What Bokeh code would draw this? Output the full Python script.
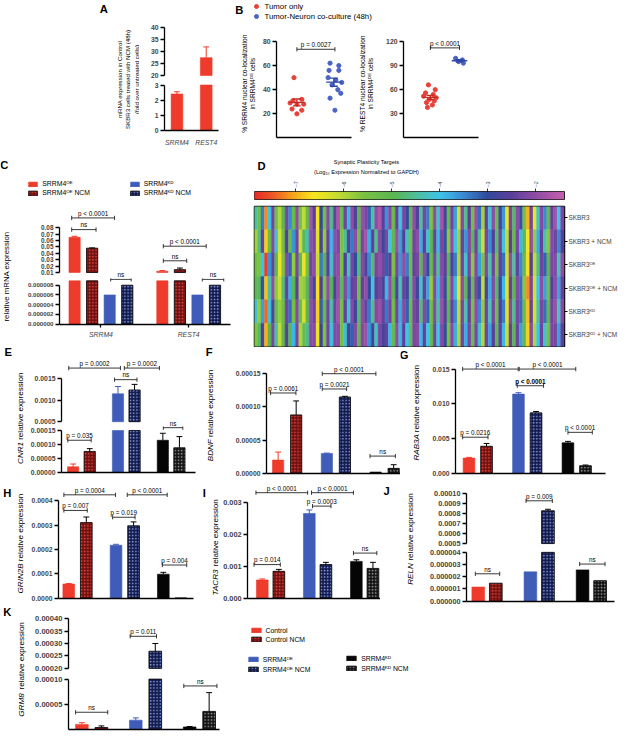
import math
import numpy as np
from bokeh.plotting import figure
from bokeh.layouts import row, column
from bokeh.models import (Range1d, LinearAxis, FixedTicker, PrintfTickFormatter, Label,
                          ColumnDataSource, Legend, LegendItem, LinearColorMapper)
from bokeh.transform import transform
from bokeh.embed import file_html
from bokeh.resources import INLINE

# ====================== DATA ======================
A_GENES = ["SRRM4", "REST4"]
A_FOLD = [2.4, 27.5]
A_ERR = [0.15, 4.5]

B_SERIES = ["Tumor only", "Tumor-Neuron co-culture (48h)"]
B1_TUMOR = [50, 32, 31, 29, 28, 28, 24, 23, 20]
B1_COCULT = [62, 60, 56, 56, 50, 48, 46, 44, 40, 37, 33, 23]
B2_TUMOR = [66, 60, 56, 54, 52, 50, 48, 46, 44, 41, 38]
B2_COCULT = [99, 97, 95, 93]
B1_P = "p = 0.0027"
B2_P = "p < 0.0001"

C_GENES = ["SRRM4", "REST4"]
C_SERIES = ["SRRM4ᴼᴱ", "SRRM4ᴼᴱ NCM", "SRRM4ᴷᴰ", "SRRM4ᴷᴰ NCM"]
C_SRRM4_MEAN = [0.065, 0.048, 0.000006, 0.000008]
C_SRRM4_ERR = [0.0015, 0.0004, 0.0, 0.0]
C_REST4_MEAN = [0.012, 0.0145, 0.000006, 0.000008]
C_REST4_ERR = [0.0012, 0.0025, 0.0, 0.0]

D_ROWS = ["SKBR3", "SKBR3 + NCM", "SKBR3ᴼᴱ", "SKBR3ᴼᴱ + NCM", "SKBR3ᴷᴰ", "SKBR3ᴷᴰ + NCM"]
D_TICKS = [-7, -6, -5, -4, -3, -2]
D_LOW, D_HIGH = -7.87, -1.41
HM_SKBR3 = [
    -4.5, -5.4, -3.4, -7.2, -4.0, -2.3, -5.4, -6.0, -5.0, -2.2,
    -3.5, -5.3, -2.0, -5.5, -6.1, -5.2, -1.8, -2.5, -6.6, -3.0,
    -5.4, -2.1, -4.6, -2.4, -1.7, -5.2, -2.3, -3.9, -2.0, -2.6,
    -5.0, -1.9, -2.2, -3.2, -4.4, -2.0, -1.7, -2.5, -3.6, -2.1,
    -5.3, -2.4, -4.0, -2.2, -3.0, -5.0, -2.0, -2.6, -4.5, -2.2,
    -3.4, -5.6, -2.0, -4.2, -1.8, -2.8, -5.2, -2.3, -3.7, -6.3,
    -2.1, -4.6, -2.5, -5.4, -1.9, -3.3, -5.9, -2.4, -4.1, -2.0,
    -5.2, -2.7, -3.6, -6.5, -2.2, -4.8, -2.0, -3.1, -5.5, -7.0,
    -2.3, -6.5, -4.3, -2.1, -3.5, -5.2, -2.4, -1.8, -4.0, -2.2]
HM_SKBR3_NCM = [
    -5.9, -4.6, -2.4, -6.8, -5.3, -2.1, -4.2, -6.3, -5.4, -2.6,
    -5.2, -3.6, -2.3, -6.2, -5.0, -4.4, -2.0, -2.2, -6.4, -2.8,
    -5.8, -2.4, -3.9, -2.0, -2.2, -5.6, -4.5, -2.6, -3.4, -2.0,
    -5.3, -2.2, -1.8, -3.8, -2.5, -4.6, -2.1, -2.9, -2.2, -4.1,
    -5.1, -1.9, -3.7, -2.6, -4.3, -5.4, -2.3, -2.0, -3.8, -2.5,
    -4.2, -5.0, -2.4, -3.9, -2.2, -3.1, -5.7, -2.0, -4.0, -5.9,
    -2.4, -3.6, -2.1, -5.0, -2.3, -4.5, -6.2, -2.2, -3.5, -2.6,
    -4.8, -2.3, -4.1, -6.1, -2.5, -5.2, -2.2, -3.9, -4.9, -6.6,
    -2.0, -5.8, -3.8, -2.4, -4.4, -5.7, -2.1, -2.3, -3.5, -2.6]
HM_OE = [
    -5.3, -5.6, -4.0, -7.7, -3.6, -2.4, -5.0, -6.5, -5.6, -2.1,
    -3.2, -5.8, -2.2, -5.1, -6.5, -5.5, -2.3, -2.0, -6.2, -3.4,
    -5.0, -2.5, -4.2, -2.1, -2.0, -5.5, -2.6, -4.3, -2.2, -3.0,
    -4.7, -2.1, -2.6, -3.5, -4.8, -2.2, -2.0, -2.3, -3.2, -2.5,
    -5.6, -2.2, -3.6, -2.0, -3.4, -5.3, -2.4, -2.2, -4.9, -2.0,
    -3.0, -5.2, -2.2, -4.5, -2.1, -2.5, -4.9, -2.6, -3.4, -6.0,
    -2.3, -4.2, -2.2, -5.7, -2.1, -3.7, -5.6, -2.1, -4.4, -2.3,
    -5.5, -2.4, -3.3, -6.2, -2.0, -4.5, -2.4, -3.5, -5.2, -6.7,
    -2.5, -6.1, -4.6, -2.3, -3.2, -5.0, -2.2, -2.1, -4.3, -2.0]
HM_OE_NCM = [
    -5.0, -4.9, -3.1, -6.9, -4.4, -2.0, -5.7, -6.2, -4.7, -2.4,
    -3.8, -5.0, -2.5, -5.9, -5.8, -4.9, -2.1, -2.7, -6.7, -2.7,
    -5.6, -2.0, -4.9, -2.6, -1.9, -4.9, -2.1, -3.6, -2.4, -2.3,
    -5.4, -2.4, -2.0, -3.0, -4.1, -2.5, -2.3, -2.7, -3.9, -2.0,
    -5.0, -2.6, -4.3, -2.4, -2.8, -4.7, -2.1, -2.8, -4.2, -2.4,
    -3.7, -5.8, -2.1, -3.9, -2.0, -3.0, -5.4, -2.1, -3.9, -6.5,
    -2.0, -4.9, -2.7, -5.2, -2.2, -3.1, -6.1, -2.6, -3.8, -2.1,
    -4.9, -2.9, -3.9, -6.4, -2.4, -5.0, -2.1, -3.3, -5.7, -7.2,
    -2.2, -6.3, -4.0, -2.0, -3.7, -5.4, -2.6, -2.0, -3.7, -2.4]
HM_KD = [
    -4.2, -5.8, -3.7, -7.4, -4.1, -2.6, -5.2, -5.8, -5.3, -2.3,
    -3.3, -5.5, -2.1, -5.3, -6.3, -5.0, -2.0, -2.3, -6.8, -3.2,
    -5.2, -2.3, -4.4, -2.3, -1.8, -5.4, -2.4, -4.1, -2.1, -2.8,
    -4.8, -2.0, -2.4, -3.4, -4.6, -2.1, -1.9, -2.4, -3.4, -2.3,
    -5.4, -2.3, -3.8, -2.1, -3.2, -5.2, -2.2, -2.4, -4.7, -2.1,
    -3.2, -5.4, -2.1, -4.4, -1.9, -2.6, -5.0, -2.4, -3.5, -6.1,
    -2.2, -4.4, -2.4, -5.5, -2.0, -3.5, -5.8, -2.3, -4.3, -2.2,
    -5.3, -2.6, -3.4, -6.4, -2.1, -4.6, -2.2, -3.3, -5.3, -6.9,
    -2.4, -6.3, -4.4, -2.2, -3.3, -5.1, -2.3, -1.9, -4.2, -2.1]
HM_KD_NCM = [
    -5.6, -4.8, -2.6, -7.0, -5.0, -2.2, -4.5, -6.1, -5.1, -2.5,
    -4.9, -3.9, -2.2, -6.0, -5.2, -4.6, -2.1, -2.1, -6.5, -2.9,
    -5.6, -2.3, -4.1, -2.1, -2.1, -5.4, -4.2, -2.8, -3.2, -2.1,
    -5.1, -2.1, -1.9, -3.6, -2.8, -4.3, -2.2, -2.8, -2.4, -3.9,
    -5.2, -2.0, -3.9, -2.5, -4.0, -5.2, -2.2, -2.1, -3.9, -2.4,
    -4.0, -5.2, -2.3, -4.0, -2.1, -3.0, -5.5, -2.1, -3.8, -6.0,
    -2.3, -3.8, -2.2, -5.2, -2.2, -4.2, -6.0, -2.3, -3.7, -2.5,
    -5.0, -2.4, -3.9, -6.2, -2.4, -5.0, -2.3, -3.7, -5.1, -6.8,
    -2.1, -6.0, -4.0, -2.3, -4.2, -5.5, -2.2, -2.2, -3.7, -2.5]

GROUPS = ["Control", "Control NCM", "SRRM4ᴼᴱ", "SRRM4ᴼᴱ NCM", "SRRM4ᴷᴰ", "SRRM4ᴷᴰ NCM"]
E_MEAN = [0.00002, 0.000075, 0.00115, 0.00124, 0.000115, 0.000088]
E_ERR = [0.00001, 0.00001, 0.00017, 0.00013, 0.000025, 0.00004]
F_MEAN = [0.00002, 0.000088, 0.00003, 0.000115, 0.000002, 0.0000075]
F_ERR = [0.000012, 0.000021, 0.0000005, 0.000001, 0.0, 0.0000055]
G_MEAN = [0.0022, 0.0039, 0.0114, 0.0087, 0.0044, 0.0011]
G_ERR = [0.0001, 0.0004, 0.0002, 0.0002, 0.0002, 0.0001]
H_MEAN = [0.000058, 0.00031, 0.000217, 0.000297, 0.0000985, 0.0000005]
H_ERR = [0.000002, 0.000023, 0.000004, 0.000016, 0.0000075, 0.0]
I_MEAN = [0.00057, 0.00084, 0.00265, 0.00105, 0.00115, 0.00093]
I_ERR = [0.00003, 0.00006, 0.00011, 0.00007, 0.00005, 0.00019]
J_MEAN = [0.00000115, 0.00000147, 0.0000024, 0.00083, 0.00000256, 0.00000168]
J_ERR = [0.0, 0.0, 0.0, 0.000015, 0.0, 0.0]
K_MEAN = [0.0000107, 0.0000045, 0.000019, 0.000269, 0.0000057, 0.0000363]
K_ERR = [0.0000033, 0.0000032, 0.0000045, 0.000031, 0.0000008, 0.000037]

# significance brackets: (x from, x to [layout px], height [data], text)
B1_BR = [(304, 343, 73.5, B1_P)]
B2_BR = [(440, 470, 112, B2_P)]
C_BR = [(73, 117, 0.0952, "p < 0.0001"), (73, 98, 0.077, "ns"), (113, 134, 0.0000092, "ns"),
        (167, 211, 0.0511, "p < 0.0001"), (167, 191, 0.0283, "ns"), (207, 229, 0.0000092, "ns")]
E_BR = [(70, 123, 0.00175, "p = 0.0002"), (127, 163, 0.00175, "p = 0.0002"), (117, 140, 0.00148, "ns"),
        (69, 93, 0.000115, "p = 0.035"), (167, 187, 0.00016, "ns")]
F_BR = [(277, 303, 0.000121, "p = 0.0061"), (330, 355, 0.000127, "p = 0.0021"),
        (330, 385, 0.00015, "p < 0.0001"), (379, 405, 0.000026, "ns")]
G_BR = [(474, 531, 0.015, "p < 0.0001"), (532, 590, 0.015, "p < 0.0001"), (530, 557, 0.0126, "p < 0.0001", "bold"),
        (474, 500, 0.0052, "p = 0.0216"), (582, 607, 0.0059, "p < 0.0001")]
H_BR = [(65, 118, 0.000424, "p = 0.0004"), (130, 171, 0.000424, "p < 0.0001"), (65, 89, 0.00036, "p = 0.007"),
        (115, 138, 0.000332, "p = 0.019"), (166, 191, 0.000136, "p = 0.004")]
I_BR = [(262, 315, 0.0033, "p < 0.0001"), (319, 362, 0.0033, "p < 0.0001"), (320, 339, 0.00288, "p = 0.0003"),
        (260, 287, 0.00105, "p = 0.014"), (362, 386, 0.00141, "ns")]
J_BR = [(539, 566, 0.00093, "p = 0.009"), (487, 512, 0.00000224, "ns"), (594, 620, 0.00000304, "ns")]
K_BR = [(133, 160, 0.000329, "p = 0.011"), (77, 110, 0.0000346, "ns"), (188, 222, 0.0000865, "ns")]

# ====================== STYLE / LAYOUT ======================
K = 0.975
FONT = "Liberation Sans"
RED, BLUE, BLK = "#ee3b2b", "#3f5cb9", "#050505"
FAM = [(RED, "#701212", "#f04a3c"), (BLUE, "#141b4c", "#8ea8ee"), (BLK, "#141414", "#9c9c9c")]
B_COL = ["#e8403a", "#4b63c4"]
B_MEANCOL = ["#c42a22", "#2e47a3"]
B1_DX = [[-3, 5, -4, -7, 0, 7, -5, 5, 0], [-4, 5, -5, 5, -6, 2, 8, -2, 4, 7, -4, 1]]
B2_DX = [[-2, 5, -5, 3, -7, 6, -1, 4, -4, 2, -3], [-4, 3, -1, 4]]

STOPS = [(0.00, "#e52d27"), (0.06, "#ee5a24"), (0.12, "#f6a21d"), (0.19, "#f8e71c"), (0.27, "#c4dc32"),
         (0.35, "#7cc242"), (0.45, "#5ab552"), (0.52, "#4fbf9a"), (0.60, "#3ec3ea"), (0.68, "#3a88d2"),
         (0.75, "#2f4b9d"), (0.83, "#5a3f9a"), (0.91, "#8e4da6"), (1.00, "#c55fae")]


def _rgb(h):
    return [int(h[i:i + 2], 16) for i in (1, 3, 5)]


_pos = [s[0] for s in STOPS]
_cols = np.array([_rgb(s[1]) for s in STOPS], dtype=float)
PALETTE = ["#%02x%02x%02x" % tuple(int(round(np.interp(t, _pos, _cols[:, k]))) for k in range(3))
           for t in np.linspace(0, 1, 256)]

HW = dict(zip("abcdefghijklmnopqrstuvwxyz",
              [556, 556, 500, 556, 556, 278, 556, 556, 222, 222, 500, 222, 833, 556, 556, 556, 556, 333, 500, 278,
               556, 500, 722, 500, 500, 500]))
HW.update(zip("ABCDEFGHIJKLMNOPQRSTUVWXYZ",
              [667, 667, 722, 722, 667, 611, 778, 722, 278, 500, 667, 556, 833, 722, 778, 667, 778, 722, 667, 611,
               722, 667, 944, 667, 667, 611]))
HW[" "] = 278


def tw(s, size):
    return sum(HW.get(c, 556) for c in s) / 1000.0 * size


def fs(v):
    return "%.2fpx" % (v * K)


class Seg:
    def __init__(self, x0, x1, y0, y1, fl=None, fr=None, ft=None, fb=None, xcal=(0, 0, 1, 1), ycal=(0, 0, 1, 1)):
        self.X0, self.X1, self.Y0, self.Y1 = (int(round(v * K)) for v in (x0, x1, y0, y1))
        self.FL = int(round((x0 if fl is None else fl) * K))
        self.FR = int(round((x1 if fr is None else fr) * K))
        self.FT = int(round((y0 if ft is None else ft) * K))
        self.FB = int(round((y1 if fb is None else fb) * K))
        u1, q1, u2, q2 = xcal
        self.xu, self.xq, self.xs = u1, q1, (q2 - q1) / (u2 - u1)
        v1, p1, v2, p2 = ycal
        self.yv, self.yp, self.ys = v1, p1, (p1 - p2) / (v2 - v1)
        self.xr = Range1d(self.q2u(self.FL / K), self.q2u(self.FR / K))
        self.yr = Range1d(self.p2v(self.FB / K), self.p2v(self.FT / K))
        self.top_r, self.bot_r = self.Y0 / K, self.Y1 / K
        self.clip = (self.yr.start, self.yr.end)
        p = figure(width=self.X1 - self.X0, height=self.Y1 - self.Y0, x_range=self.xr, y_range=self.yr,
                   toolbar_location=None, output_backend="svg", x_axis_type=None, y_axis_type=None,
                   min_border_left=self.FL - self.X0, min_border_right=self.X1 - self.FR,
                   min_border_top=self.FT - self.Y0, min_border_bottom=self.Y1 - self.FB)
        p.outline_line_color = None
        self.fig = p

    def q2u(self, q):
        return self.xu + (q - self.xq) / self.xs

    def p2v(self, p):
        return self.yv + (self.yp - p) / self.ys

    def v2p(self, v):
        return self.yp - (v - self.yv) * self.ys


def txt(sg, x, y, t, size, style="normal", align="center", base="middle", angle=0.0, color="black"):
    sg.fig.add_layout(Label(x=x, y=y, text=t, text_font=FONT, text_font_size=fs(size), text_font_style=style,
                            text_align=align, text_baseline=base, angle=angle, text_color=color))


def y_axis(sg, ticks, fmt, lo, hi, size=7.0, overrides=None, bar_top=None):
    ax = LinearAxis(ticker=FixedTicker(ticks=list(ticks)), formatter=PrintfTickFormatter(format=fmt), bounds=(lo, hi),
                    axis_line_width=1.3, major_tick_line_width=1.3, major_tick_out=4, major_tick_in=0,
                    minor_tick_out=0, minor_tick_in=0, major_label_standoff=2,
                    major_label_text_font=FONT, major_label_text_font_size=fs(size),
                    major_label_text_font_style="bold")
    if overrides:
        ax.major_label_overrides = overrides
    sg.fig.add_layout(ax, "left")
    sg.clip = (lo, hi if bar_top is None else bar_top)


def x_axis(sg, end_px, ticks=(), labels=None, size=7.0, tick_out=0, standoff=3):
    ax = LinearAxis(ticker=FixedTicker(ticks=list(ticks)), bounds=(sg.xr.start, sg.q2u(end_px)),
                    axis_line_width=1.3, major_tick_line_width=1.3, major_tick_out=tick_out, major_tick_in=0,
                    minor_tick_out=0, minor_tick_in=0, major_label_standoff=standoff,
                    major_label_text_font=FONT, major_label_text_font_size=fs(size),
                    major_label_text_font_style="italic")
    if labels:
        ax.major_label_overrides = {float(t): l for t, l in zip(ticks, labels)}
    sg.fig.add_layout(ax, "below")


def bar_style(fam, hat):
    solid, dark, hc = FAM[fam]
    if hat:
        return dict(fill_color=dark, hatch_pattern="dot", hatch_color=hc, hatch_scale=3.2, hatch_weight=1.3,
                    line_color="black", line_width=0.8)
    return dict(fill_color=solid, line_color=solid, line_width=0.6)


def draw_bars(sg, xs, means, errs, kinds, w, capw):
    lo, hi = sg.clip
    for x, m, e, (fam, hat) in zip(xs, means, errs, kinds):
        if m > lo:
            sg.fig.vbar(x=[x], top=[min(m, hi)], bottom=lo, width=w, **bar_style(fam, hat))
        if e > 0 and lo < m < hi:
            ec = "black" if hat else FAM[fam][0]
            sg.fig.segment(x0=[x, x - capw], y0=[m, m + e], x1=[x, x + capw], y1=[m + e, m + e],
                           line_color=ec, line_width=1.0)


def brackets(segs, specs, size=6.5):
    for spec in specs:
        x0, x1, val, text = spec[:4]
        style = spec[4] if len(spec) > 4 else "normal"
        sg = next(s for s in segs if s.yr.start <= val <= s.yr.end)
        py = sg.v2p(val)
        xa, xb = sg.q2u(x0), sg.q2u(x1)
        c1, c2 = sg.p2v(py - 2.2), sg.p2v(py + 2.2)
        sg.fig.segment(x0=[xa, xa, xb], y0=[val, c1, c1], x1=[xb, xa, xb], y1=[val, c2, c2],
                       line_color="#222222", line_width=0.9)
        ty = py - 1.2
        mid = ty - size / 2
        tg = next((s for s in segs if s.top_r <= mid <= s.bot_r), sg)
        txt(tg, tg.q2u((x0 + x1) / 2), tg.p2v(ty), text, size, style=style, base="bottom")


def six_bars(segs, means, errs, c0, c2, half, wpx):
    ppg = (c2 - c0) / 2.0
    xs = [g + s * half / ppg for g in range(3) for s in (-1, 1)]
    kinds = [(i // 2, i % 2) for i in range(6)]
    for sg in segs:
        draw_bars(sg, xs, means, errs, kinds, wpx / ppg, 3.0 / ppg)


def gene_label(sg, x, yc, gene, size=8.3):
    rest = "relative expression"
    wg, ws, wr = tw(gene, size), tw(" ", size) + 1.6, tw(rest, size)
    ybot = yc + (wg + ws + wr) / 2
    txt(sg, x, ybot, gene, size, style="italic", align="left", angle=math.pi / 2)
    txt(sg, x, ybot - wg - ws, rest, size, align="left", angle=math.pi / 2)


def letter(sg, x, y, t):
    txt(sg, x, y, t, 11.5, style="bold")


def make_legend(sg, entries, left, top, size=7.0, gw=12, gh=6, pitch=10.5, kind="bar"):
    items = []
    far = sg.xr.start - 1000.0
    for label, st in entries:
        if kind == "bar":
            r = sg.fig.vbar(x=[far], top=[sg.yr.start], bottom=sg.yr.start, width=1, **st)
        else:
            r = sg.fig.scatter(x=[far], y=[sg.yr.start], size=4, **st)
        items.append(LegendItem(label=label, renderers=[r]))
    th = size * K * 1.15
    ih = max(gh * K, th)
    sp = int(round(max(0.0, pitch * K - ih)))
    n = len(entries)
    hgt = n * ih + (n - 1) * sp
    lx = left * K - sg.X0
    ly = (sg.Y1 - top * K) - hgt
    lg = Legend(items=items, location=(lx, ly), orientation="vertical",
                glyph_width=int(round(gw * K)), glyph_height=int(round(gh * K)), label_height=int(round(gh * K)),
                label_width=10, label_standoff=4, spacing=sp, padding=0, margin=0,
                border_line_color=None, background_fill_alpha=0, label_text_color="black",
                label_text_font=FONT, label_text_font_size=fs(size))
    sg.fig.add_layout(lg)


# ====================== ROW 1: A and B ======================
stripA = Seg(0, 143, 0, 152)
letter(stripA, 106, 9, "A")
for xx, line in zip((122, 130.5, 139), ("mRNA expression in Control", "SKBR3 cells treated with NCM (48h)",
                                          "(fold over untreated cells)")):
    txt(stripA, xx, 81, line, 6.3, angle=math.pi / 2)
topA = Seg(143, 232, 0, 81, fl=168, xcal=(0, 181, 1, 211), ycal=(20, 77, 40, 28))
botA = Seg(143, 232, 81, 152, fl=168, fb=136, xcal=(0, 181, 1, 211), ycal=(0, 136, 3, 87))
y_axis(topA, [20, 25, 30, 35, 40], "%d", 20, 40)
y_axis(botA, [0, 1, 2, 3], "%d", 0, 3)
topA.clip = (20, topA.yr.end)
for sg in (topA, botA):
    draw_bars(sg, [0, 1], A_FOLD, A_ERR, [(0, 0), (0, 0)], 12 / 30.0, 3 / 30.0)
x_axis(botA, 224, ticks=[0, 1], labels=A_GENES, size=7.0, tick_out=0, standoff=8)

legB = Seg(232, 637, 0, 30)
letter(legB, 245, 10, "B")
make_legend(legB, [(B_SERIES[0], dict(color=B_COL[0])), (B_SERIES[1], dict(color=B_COL[1]))],
            257, 2, size=8.0, gw=10, gh=10, pitch=10.5, kind="dot")
stripB1 = Seg(232, 264, 30, 152)
txt(stripB1, 250, 91, "% SRRM4 nuclear co-localization", 6.8, angle=math.pi / 2)
txt(stripB1, 258.5, 91, "in SRRM4ᴼᴱ cells", 6.8, angle=math.pi / 2)
sB1 = Seg(264, 365, 30, 152, fl=283, fb=141, xcal=(0, 304, 1, 342), ycal=(0, 141, 80, 42))
stripB2 = Seg(365, 393, 30, 152)
txt(stripB2, 371, 91, "% REST4 nuclear co-localization", 6.8, angle=math.pi / 2)
txt(stripB2, 379.5, 91, "in SRRM4ᴼᴱ cells", 6.8, angle=math.pi / 2)
sB2 = Seg(393, 637, 30, 152, fl=412, fb=141, xcal=(0, 440, 1, 470), ycal=(0, 141, 120, 42))


def scatter_panel(sg, groups, dxs):
    ppg = sg.xs
    for g, (vals, dx) in enumerate(zip(groups, dxs)):
        xs = [g + d / ppg for d in dx]
        sg.fig.scatter(xs, vals, size=4.3 * K, color=B_COL[g])
        m = float(np.mean(vals))
        se = float(np.std(vals, ddof=1) / math.sqrt(len(vals)))
        hw, cw = 8 / ppg, 4 / ppg
        sg.fig.segment(x0=[g - hw, g, g - cw, g - cw], y0=[m, m - se, m + se, m - se],
                       x1=[g + hw, g, g + cw, g + cw], y1=[m, m + se, m + se, m - se],
                       line_color=B_MEANCOL[g], line_width=1.3)


scatter_panel(sB1, [B1_TUMOR, B1_COCULT], B1_DX)
scatter_panel(sB2, [B2_TUMOR, B2_COCULT], B2_DX)
y_axis(sB1, [0, 20, 40, 60, 80], "%d", 0, 80)
y_axis(sB2, [0, 30, 60, 90, 120], "%d", 0, 120)
x_axis(sB1, 360)
x_axis(sB2, 490)
brackets([sB1], B1_BR)
brackets([sB2], B2_BR)

# ====================== ROW 2: C and D ======================
legC = Seg(0, 250, 152, 205)
letter(legC, 4, 169, "C")
make_legend(legC, [(C_SERIES[0], bar_style(0, 0)), (C_SERIES[1], bar_style(0, 1))], 28, 183, size=7.0,
            gw=11, gh=6, pitch=10.5)
make_legend(legC, [(C_SERIES[2], bar_style(1, 0)), (C_SERIES[3], bar_style(1, 1))], 132, 183, size=7.0,
            gw=11, gh=6, pitch=10.5)
stripC = Seg(0, 14, 205, 356)
txt(stripC, 6.5, 283, "relative mRNA expression", 8.0, angle=math.pi / 2)
topC = Seg(14, 250, 205, 285.5, fl=61, xcal=(0, 103, 1, 193), ycal=(0.01, 279, 0.08, 233))
botC = Seg(14, 250, 285.5, 356, fl=61, fb=332, xcal=(0, 103, 1, 193), ycal=(0, 332, 0.000008, 292))
y_axis(topC, [0.01, 0.02, 0.03, 0.04, 0.05, 0.06, 0.07, 0.08], "%.2f", 0.01, 0.08, size=6.6)
topC.clip = (0.01, topC.yr.end)
y_axis(botC, [0.0, 0.000002, 0.000004, 0.000006, 0.000008], "%.6f", 0.0, 0.000008, size=6.3,
       bar_top=0.0000089)
c_xs = [g + d / 90.0 for g in range(2) for d in (-27, -9, 9, 27)]
c_means = C_SRRM4_MEAN + C_REST4_MEAN
c_errs = C_SRRM4_ERR + C_REST4_ERR
c_kinds = [(0, 0), (0, 1), (1, 0), (1, 1)] * 2
for sg in (topC, botC):
    draw_bars(sg, c_xs, c_means, c_errs, c_kinds, 11.5 / 90.0, 3 / 90.0)
x_axis(botC, 236, ticks=[0, 1], labels=C_GENES, size=7.0, tick_out=3, standoff=3)
brackets([topC, botC], C_BR)

titleD = Seg(250, 637, 152, 183)
letter(titleD, 259, 170, "D")
txt(titleD, 390, 166, "Synaptic Plasticity Targets", 5.8)
txt(titleD, 390, 176, "(Log₁₀ Expression Normalized to GAPDH)", 5.8)
mapper = LinearColorMapper(palette=PALETTE, low=D_LOW, high=D_HIGH)
cbarD = Seg(250, 637, 183, 208, fl=260, fr=580, ft=193, fb=204, xcal=(D_LOW, 260, D_HIGH, 580),
            ycal=(0, 204, 1, 193))
cbarD.fig.image(image=[np.linspace(D_LOW, D_HIGH, 320).reshape(1, -1)], x=D_LOW, y=0, dw=D_HIGH - D_LOW, dh=1,
                color_mapper=mapper)
cbarD.fig.outline_line_color = "#222222"
cbarD.fig.outline_line_width = 1.0
cax = LinearAxis(ticker=FixedTicker(ticks=D_TICKS), axis_line_color=None, major_tick_out=3, major_tick_in=0,
                 major_tick_line_width=0.8, minor_tick_out=0, major_label_standoff=1,
                 major_label_orientation=math.pi / 2, major_label_text_font=FONT,
                 major_label_text_font_size=fs(5.5))
cbarD.fig.add_layout(cax, "above")

HM = [HM_SKBR3, HM_SKBR3_NCM, HM_OE, HM_OE_NCM, HM_KD, HM_KD_NCM]
N = len(HM_SKBR3)
heatD = Seg(250, 637, 208, 356, fl=257, fr=578, ft=211, fb=355, xcal=(0, 257, N, 578), ycal=(0, 355, 6, 211))
hx, hy, hv = [], [], []
for r, vals in enumerate(HM):
    for c, v in enumerate(vals):
        hx.append(c + 0.5)
        hy.append(5.5 - r)
        hv.append(v)
heatD.fig.rect(x="x", y="y", width=1, height=1, source=ColumnDataSource(dict(x=hx, y=hy, v=hv)),
               fill_color=transform("v", mapper), line_color=transform("v", mapper), line_width=0.4)
heatD.fig.outline_line_color = "#111111"
heatD.fig.outline_line_width = 1.5
rax = LinearAxis(ticker=FixedTicker(ticks=[5.5 - i for i in range(6)]),
                 major_label_overrides={5.5 - i: lab for i, lab in enumerate(D_ROWS)},
                 axis_line_color=None, major_tick_out=3, major_tick_in=0, major_tick_line_width=1.0,
                 minor_tick_out=0, major_label_standoff=1, major_label_text_font=FONT,
                 major_label_text_font_size=fs(6.6))
heatD.fig.add_layout(rax, "right")

# ====================== ROW 3: E F G ======================
stripE = Seg(0, 27, 356, 494)
letter(stripE, 8, 361, "E")
gene_label(stripE, 20, 436, "CNR1")
topE = Seg(27, 205, 356, 437, fl=63, xcal=(0, 83, 2, 175), ycal=(0.0005, 432, 0.0015, 388))
botE = Seg(27, 205, 437, 494, fl=63, fb=484, xcal=(0, 83, 2, 175), ycal=(0, 484, 0.00015, 441))
y_axis(topE, [0.0005, 0.0010, 0.0015], "%.4f", 0.0005, 0.0015)
topE.clip = (0.0005, topE.yr.end)
y_axis(botE, [0.0, 0.00005, 0.0001, 0.00015], "%.5f", 0.0, 0.00015)
six_bars([topE, botE], E_MEAN, E_ERR, 83, 175, 8.5, 11.5)
x_axis(botE, 200)
brackets([topE, botE], E_BR)

stripF = Seg(205, 222, 356, 494)
letter(stripF, 214, 361, "F")
gene_label(stripF, 215, 433, "BDNF")
figF = Seg(222, 410, 356, 494, fl=273, fb=486, xcal=(0, 294, 2, 394), ycal=(0, 486, 0.00015, 383))
y_axis(figF, [0.0, 0.00005, 0.0001, 0.00015], "%.5f", 0.0, 0.00015)
figF.clip = (0.0, figF.yr.end)
six_bars([figF], F_MEAN, F_ERR, 294, 394, 9.25, 11.5)
x_axis(figF, 410)
brackets([figF], F_BR)

stripG = Seg(410, 437, 356, 494)
letter(stripG, 414, 364, "G")
gene_label(stripG, 427, 430, "RAB3A")
figG = Seg(437, 637, 356, 494, fl=467, fb=485, xcal=(0, 489.5, 2, 591), ycal=(0, 485, 0.015, 378))
y_axis(figG, [0.0, 0.005, 0.010, 0.015], "%.3f", 0.0, 0.015)
figG.clip = (0.0, figG.yr.end)
six_bars([figG], G_MEAN, G_ERR, 489.5, 591, 9, 12)
x_axis(figG, 620)
brackets([figG], G_BR)

# ====================== ROW 4: H I J ======================
stripH = Seg(0, 26, 494, 620)
letter(stripH, 7, 506, "H")
gene_label(stripH, 20, 562, "GRIN2B")
figH = Seg(26, 205, 494, 620, fl=59, fb=613, xcal=(0, 79, 2, 176), ycal=(0, 613, 0.0004, 513))
y_axis(figH, [0.0, 0.0001, 0.0002, 0.0003, 0.0004], "%.4f", 0.0, 0.0004)
figH.clip = (0.0, figH.yr.end)
six_bars([figH], H_MEAN, H_ERR, 79, 176, 9, 12)
x_axis(figH, 198)
brackets([figH], H_BR)

stripI = Seg(205, 226, 494, 620)
letter(stripI, 209, 506, "I")
gene_label(stripI, 221, 566, "TACR3")
figI = Seg(226, 390, 494, 620, fl=253, fb=615, xcal=(0, 277, 2, 373.5), ycal=(0, 615, 0.003, 515))
y_axis(figI, [0.0, 0.001, 0.002, 0.003], "%.3f", 0.0, 0.003, size=7.5)
figI.clip = (0.0, figI.yr.end)
six_bars([figI], I_MEAN, I_ERR, 277, 373.5, 8.5, 12)
x_axis(figI, 390)
brackets([figI], I_BR)

stripJ = Seg(390, 428, 494, 620)
letter(stripJ, 396, 504, "J")
gene_label(stripJ, 421, 557, "RELN")
topJ = Seg(428, 637, 494, 561, fl=478, xcal=(0, 499, 2, 606), ycal=(0.0005, 557, 0.001, 506))
botJ = Seg(428, 637, 561, 621, fl=478, fb=616, xcal=(0, 499, 2, 606), ycal=(0, 616, 0.000004, 566))
y_axis(topJ, [0.0005, 0.0006, 0.0007, 0.0008, 0.0009, 0.0010], "%.4f", 0.0005, 0.0010, size=7.5,
       overrides={0.0010: "0.00010"})
topJ.clip = (0.0005, topJ.yr.end)
y_axis(botJ, [0.0, 0.000001, 0.000002, 0.000003, 0.000004], "%.6f", 0.0, 0.000004, size=7.5)
six_bars([topJ, botJ], J_MEAN, J_ERR, 499, 606, 9, 13)
x_axis(botJ, 630)
brackets([topJ, botJ], J_BR)

# ====================== ROW 5: K and legend ======================
stripK = Seg(0, 28, 621, 754)
letter(stripK, 7, 627, "K")
gene_label(stripK, 22, 686, "GRM8")
topK = Seg(28, 235, 621, 690, fl=70, xcal=(0, 93.5, 2, 204), ycal=(0.0002, 685, 0.0004, 634))
botK = Seg(28, 235, 690, 754, fl=70, fb=748, xcal=(0, 93.5, 2, 204), ycal=(0, 748, 0.0001, 696))
y_axis(topK, [0.0002, 0.00025, 0.0003, 0.00035, 0.0004], "%.5f", 0.0002, 0.0004, size=7.8)
topK.clip = (0.0002, topK.yr.end)
y_axis(botK, [0.0, 0.00005, 0.0001], "%.5f", 0.0, 0.0001, size=7.8)
six_bars([topK, botK], K_MEAN, K_ERR, 93.5, 204, 10, 13)
x_axis(botK, 225)
brackets([topK, botK], K_BR)

legK = Seg(235, 637, 621, 754)
make_legend(legK, [(GROUPS[0], bar_style(0, 0)), (GROUPS[1], bar_style(0, 1))], 256, 641, size=7.0,
            gw=12, gh=6, pitch=10)
make_legend(legK, [(GROUPS[2], bar_style(1, 0)), (GROUPS[3], bar_style(1, 1))], 253, 671, size=7.0,
            gw=12, gh=6, pitch=11)
make_legend(legK, [(GROUPS[4], bar_style(2, 0)), (GROUPS[5], bar_style(2, 1))], 354, 670, size=7.0,
            gw=12, gh=6, pitch=11)

# ====================== ASSEMBLE ======================
r1 = row(stripA.fig, column(topA.fig, botA.fig, spacing=0),
         column(legB.fig, row(stripB1.fig, sB1.fig, stripB2.fig, sB2.fig, spacing=0), spacing=0), spacing=0)
r2 = row(column(legC.fig, row(stripC.fig, column(topC.fig, botC.fig, spacing=0), spacing=0), spacing=0),
         column(titleD.fig, cbarD.fig, heatD.fig, spacing=0), spacing=0)
r3 = row(stripE.fig, column(topE.fig, botE.fig, spacing=0), stripF.fig, figF.fig, stripG.fig, figG.fig, spacing=0)
r4 = row(stripH.fig, figH.fig, stripI.fig, figI.fig, stripJ.fig, column(topJ.fig, botJ.fig, spacing=0), spacing=0)
r5 = row(stripK.fig, column(topK.fig, botK.fig, spacing=0), legK.fig, spacing=0)
root = column(r1, r2, r3, r4, r5, spacing=0)

with open("out.html", "w", encoding="utf-8") as f:
    f.write(file_html(root, INLINE, title="SRRM4 figure"))
